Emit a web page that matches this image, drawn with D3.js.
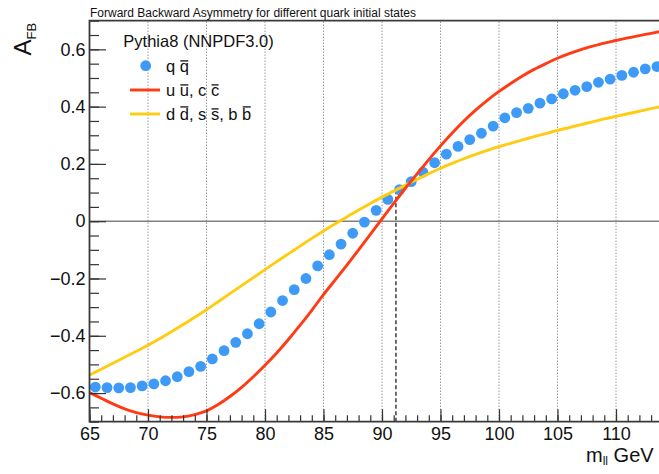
<!DOCTYPE html>
<html>
<head>
<meta charset="utf-8">
<script src="https://cdn.jsdelivr.net/npm/d3@7"></script>
<style>
  html, body { margin: 0; padding: 0; background: #fff; overflow: hidden; }
  svg text { font-family: "Liberation Sans", Arial, Helvetica, sans-serif; }
</style>
</head>
<body>
<svg id="chart" width="659" height="474"></svg>
<script>
// ---- text ----
const title = "Forward Backward Asymmetry for different quark initial states";
const legendHeader = "Pythia8 (NNPDF3.0)";
const seriesLabels = ["q #bar{q}", "u #bar{u}, c #bar{c}", "d #bar{d}, s #bar{s}, b #bar{b}"];

// ---- axes ----
const xMajorTicks = [65, 70, 75, 80, 85, 90, 95, 100, 105, 110, 115, 120];
const xTickLabels = [65, 70, 75, 80, 85, 90, 95, 100, 105, 110];
const yMajorTicks = [-0.6, -0.4, -0.2, 0, 0.2, 0.4, 0.6];
const zMass = 91.19;

// ---- q qbar (all light quarks), 1 GeV bins ----
const qqMass = [65.5, 66.5, 67.5, 68.5, 69.5, 70.5, 71.5, 72.5, 73.5, 74.5,
                75.5, 76.5, 77.5, 78.5, 79.5, 80.5, 81.5, 82.5, 83.5, 84.5,
                85.5, 86.5, 87.5, 88.5, 89.5, 90.5, 91.5, 92.5, 93.5, 94.5,
                95.5, 96.5, 97.5, 98.5, 99.5, 100.5, 101.5, 102.5, 103.5, 104.5,
                105.5, 106.5, 107.5, 108.5, 109.5, 110.5, 111.5, 112.5, 113.5];
const qqAfb = [-0.579, -0.581, -0.582, -0.581, -0.575, -0.568, -0.557, -0.543, -0.525, -0.507,
               -0.481, -0.452, -0.423, -0.393, -0.358, -0.317, -0.277, -0.239, -0.200, -0.156,
               -0.117, -0.080, -0.042, -0.003, 0.038, 0.076, 0.110, 0.138, 0.171, 0.204,
               0.234, 0.261, 0.285, 0.307, 0.332, 0.361, 0.379, 0.394, 0.412, 0.427,
               0.445, 0.457, 0.470, 0.485, 0.496, 0.509, 0.520, 0.532, 0.540];

// ---- up-type and down-type curves ----
const curveMass = [65, 66, 67, 68, 69, 70, 71, 72, 73, 74,
                   75, 76, 77, 78, 79, 80, 81, 82, 83, 84,
                   85, 86, 87, 88, 89, 90, 91, 92, 93, 94,
                   95, 96, 97, 98, 99, 100, 101, 102, 103, 104,
                   105, 106, 107, 108, 109, 110, 111, 112, 113, 114];
const uuAfb = [-0.598, -0.618, -0.638, -0.655, -0.668, -0.677, -0.683, -0.685, -0.683, -0.675,
               -0.662, -0.640, -0.612, -0.580, -0.543, -0.503, -0.460, -0.413, -0.363, -0.311,
               -0.256, -0.205, -0.153, -0.100, -0.046, 0.008, 0.062, 0.115, 0.165, 0.215,
               0.263, 0.308, 0.350, 0.388, 0.422, 0.453, 0.481, 0.507, 0.530, 0.550,
               0.569, 0.585, 0.599, 0.611, 0.622, 0.631, 0.640, 0.648, 0.656, 0.664];
const ddAfb = [-0.537, -0.517, -0.496, -0.475, -0.454, -0.433, -0.410, -0.386, -0.361, -0.335,
               -0.309, -0.281, -0.253, -0.225, -0.197, -0.169, -0.141, -0.114, -0.087, -0.060,
               -0.034, -0.009, 0.015, 0.039, 0.062, 0.084, 0.105, 0.126, 0.146, 0.166,
               0.185, 0.202, 0.218, 0.233, 0.247, 0.260, 0.272, 0.284, 0.295, 0.306,
               0.317, 0.327, 0.337, 0.347, 0.357, 0.366, 0.375, 0.384, 0.393, 0.401];

const colors = { qq: "#3d9bf7", uu: "#ff3a14", dd: "#ffcc11" };

// ---- frame ----
const svg = d3.select("#chart");
const frame = { left: 89.5, top: 20.7, bottom: 421.7, right: 733 };

const x = d3.scaleLinear().domain([65, 120]).range([frame.left, frame.right]);
const y = d3.scaleLinear().domain([-0.7, 0.7]).range([frame.bottom, frame.top]);

const qq = qqMass.map((m, i) => ({ m, v: qqAfb[i] }));
const uu = curveMass.map((m, i) => ({ m, v: uuAfb[i] }));
const dd = curveMass.map((m, i) => ({ m, v: ddAfb[i] }));

// vertical dotted grid at the major mass ticks
svg.append("g")
  .selectAll("line")
  .data(xMajorTicks.filter(d => d > 65))
  .join("line")
  .attr("x1", d => x(d)).attr("x2", d => x(d))
  .attr("y1", y(-0.7)).attr("y2", y(0.7))
  .attr("stroke", "#6a6a6a").attr("stroke-width", 1)
  .attr("stroke-dasharray", "1,2");

// A_FB = 0 reference
svg.append("line")
  .attr("x1", x(65)).attr("x2", x(120))
  .attr("y1", y(0)).attr("y2", y(0))
  .attr("stroke", "#808080").attr("stroke-width", 1.6);

// Z pole marker
svg.append("line")
  .attr("x1", x(zMass)).attr("x2", x(zMass))
  .attr("y1", y(-0.7)).attr("y2", y(0.1))
  .attr("stroke", "#4a4a4a").attr("stroke-width", 1.6)
  .attr("stroke-dasharray", "4,2.5");

// ---- series ----
const line = d3.line().x(d => x(d.m)).y(d => y(d.v)).curve(d3.curveMonotoneX);

svg.append("g")
  .selectAll("circle")
  .data(qq)
  .join("circle")
  .attr("cx", d => x(d.m)).attr("cy", d => y(d.v))
  .attr("r", 5.4)
  .attr("fill", colors.qq);

svg.append("path").datum(dd)
  .attr("d", line).attr("fill", "none")
  .attr("stroke", colors.dd).attr("stroke-width", 2.9);

svg.append("path").datum(uu)
  .attr("d", line).attr("fill", "none")
  .attr("stroke", colors.uu).attr("stroke-width", 2.9);

// ---- axes ----
function styleAxis(g, fontSize) {
  g.attr("font-family", null).attr("font-size", fontSize);
  g.selectAll("text").attr("fill", "#111");
  g.selectAll(".tick line").attr("stroke", "#333").attr("stroke-width", 1.2);
  g.select(".domain").remove();
}

const xMinor = d3.range(65, 121, 1);
svg.append("g")
  .attr("transform", `translate(0,${frame.bottom})`)
  .call(d3.axisBottom(x).tickValues(xMinor).tickSize(-6.5).tickFormat(""))
  .call(g => styleAxis(g, 18));

svg.append("g")
  .attr("transform", `translate(0,${frame.bottom})`)
  .call(d3.axisBottom(x).tickValues(xMajorTicks).tickSize(-12.5).tickFormat(""))
  .call(g => styleAxis(g, 18));

svg.append("g")
  .attr("transform", `translate(0,${frame.bottom})`)
  .call(d3.axisBottom(x).tickValues(xTickLabels).tickSize(0).tickPadding(6).tickFormat(d3.format("d")))
  .call(g => styleAxis(g, 18));

const yMinor = d3.range(-14, 15).map(k => k * 0.05);
svg.append("g")
  .attr("transform", `translate(${frame.left},0)`)
  .call(d3.axisLeft(y).tickValues(yMinor).tickSize(-9.5).tickFormat(""))
  .call(g => styleAxis(g, 18));

svg.append("g")
  .attr("transform", `translate(${frame.left},0)`)
  .call(d3.axisLeft(y).tickValues(yMajorTicks).tickSize(-16.5).tickPadding(4)
        .tickFormat(d => d === 0 ? "0" : d3.format(".1f")(d)))
  .call(g => styleAxis(g, 18));

// frame lines
svg.append("path")
  .attr("d", `M${frame.right},${frame.top}H${frame.left}V${frame.bottom}H${frame.right}`)
  .attr("fill", "none").attr("stroke", "#3a3a3a").attr("stroke-width", 1.8);

// ---- titles ----
svg.append("text")
  .attr("x", 90).attr("y", 17)
  .attr("font-size", 12).attr("fill", "#111")
  .text(title);

const yLab = svg.append("text")
  .attr("transform", "translate(30.7,55.5) rotate(-90)")
  .attr("font-size", 24).attr("fill", "#111");
yLab.append("tspan").text("A");
yLab.append("tspan").attr("font-size", 13).attr("dy", 5).text("FB");

const xLab = svg.append("text")
  .attr("x", 586).attr("y", 461.7)
  .attr("font-size", 20).attr("fill", "#111");
xLab.append("tspan").text("m");
xLab.append("tspan").attr("font-size", 12).attr("dy", 3.5).text("ll");
xLab.append("tspan").attr("dy", -3.5).text(" GeV");

// ---- legend ----
const legend = svg.append("g");
legend.append("text")
  .attr("x", 123.3).attr("y", 46.7)
  .attr("font-size", 16.5).attr("fill", "#111")
  .text(legendHeader);

// "#bar{x}" draws an overline above x
function drawRichLabel(g, label, x0, baseline) {
  let plain = "";
  const barred = [];
  const re = /#bar\{([^}]*)\}/g;
  let last = 0, mt;
  while ((mt = re.exec(label)) !== null) {
    plain += label.slice(last, mt.index);
    for (let k = 0; k < mt[1].length; k++) barred.push(plain.length + k);
    plain += mt[1];
    last = re.lastIndex;
  }
  plain += label.slice(last);
  const t = g.append("text")
    .attr("x", x0).attr("y", baseline)
    .attr("font-size", 16.5).attr("fill", "#111")
    .style("white-space", "pre")
    .text(plain);
  const node = t.node();
  barred.forEach(i => {
    const s = node.getStartPositionOfChar(i);
    const e = node.getEndPositionOfChar(i);
    const tall = "bdfhklt".includes(plain[i]);
    const by = baseline - (tall ? 12.8 : 10.8);
    g.append("line")
      .attr("x1", s.x + 0.6).attr("x2", e.x - 0.6)
      .attr("y1", by).attr("y2", by)
      .attr("stroke", "#111").attr("stroke-width", 1.3);
  });
}

const rowBaselines = [71.7, 95.7, 119.7];
const entryKinds = ["marker", "line", "line"];
const entryColors = [colors.qq, colors.uu, colors.dd];
seriesLabels.forEach((lab, i) => {
  const b = rowBaselines[i];
  if (entryKinds[i] === "marker") {
    legend.append("circle").attr("cx", 145.7).attr("cy", b - 6).attr("r", 5.4).attr("fill", entryColors[i]);
  } else {
    legend.append("line")
      .attr("x1", 130).attr("x2", 160).attr("y1", b - 5.7).attr("y2", b - 5.7)
      .attr("stroke", entryColors[i]).attr("stroke-width", 2.9);
  }
  drawRichLabel(legend, lab, 166, b);
});
</script>
</body>
</html>
